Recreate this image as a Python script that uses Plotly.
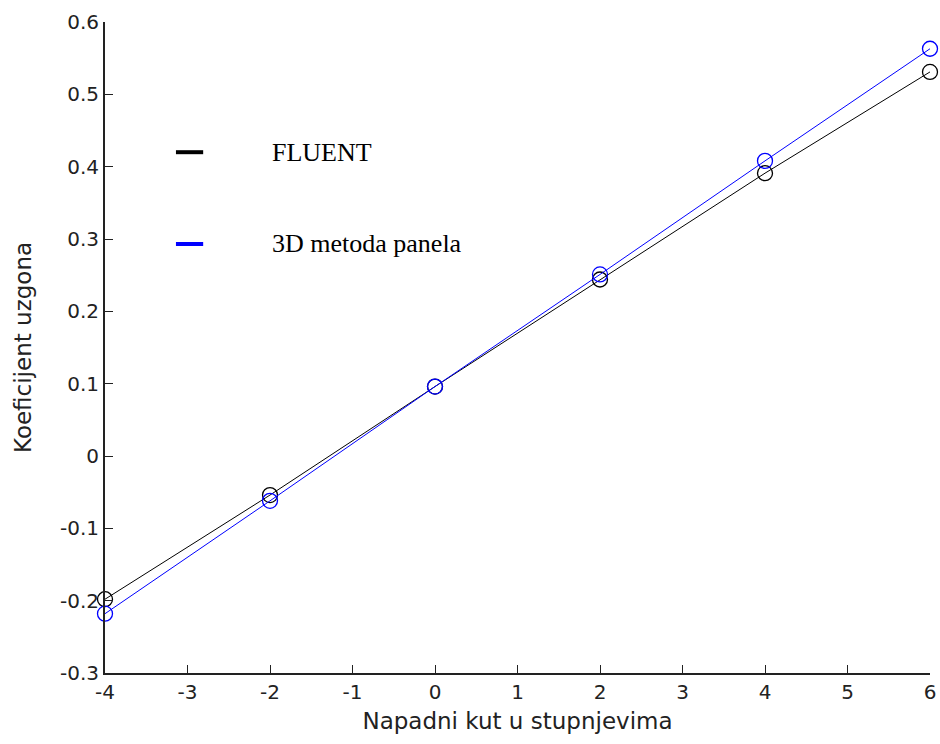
import plotly.graph_objects as go

angles = [-4, -2, 0, 2, 4, 6]
fluent = [-0.198, -0.054, 0.096, 0.244, 0.391, 0.531]
panel = [-0.218, -0.062, 0.096, 0.251, 0.408, 0.563]
series_names = ["FLUENT", "3D metoda panela"]
series_colors = ["black", "blue"]
x_ticks = [-4, -3, -2, -1, 0, 1, 2, 3, 4, 5, 6]
y_ticks = [-0.3, -0.2, -0.1, 0, 0.1, 0.2, 0.3, 0.4, 0.5, 0.6]

fig = go.Figure()
for name, ys, col in zip(series_names, [fluent, panel], series_colors):
    fig.add_trace(go.Scatter(
        x=angles, y=ys, mode="lines+markers", name=name,
        line=dict(color=col, width=1),
        marker=dict(symbol="circle-open", size=15, color=col, line=dict(width=1.3, color=col)),
        showlegend=False, cliponaxis=False,
    ))

# manual legend (as in original)
legend_y = [0.800, 0.659]
for name, col, ly in zip(series_names, series_colors, legend_y):
    fig.add_shape(type="line", xref="paper", yref="paper",
                  x0=0.086, x1=0.119, y0=ly, y1=ly,
                  line=dict(color=col, width=4))
    fig.add_annotation(xref="paper", yref="paper", x=0.2, y=ly, text=name,
                       showarrow=False, xanchor="left", yanchor="middle",
                       font=dict(family="Liberation Serif, Times New Roman, serif", size=26, color="black"))

tick_font = dict(family="DejaVu Sans, sans-serif", size=20, color="#222")
title_font = dict(family="DejaVu Sans, sans-serif", size=23, color="#222")
fig.update_layout(
    width=940, height=744,
    margin=dict(l=105, r=10, t=22, b=71),
    paper_bgcolor="white", plot_bgcolor="white",
    hovermode=False,
    xaxis=dict(range=[-4, 6], tickvals=x_ticks, ticktext=[f"{v:g}" for v in x_ticks],
               ticks="inside", ticklen=8, automargin=False,
               tickcolor="#222", showline=True, linecolor="#222", linewidth=2,
               showgrid=False, zeroline=False, tickfont=tick_font,
               title=dict(text="Napadni kut u stupnjevima", font=title_font, standoff=10)),
    yaxis=dict(range=[-0.3, 0.6], tickvals=y_ticks, ticktext=[f"{v:g}" for v in y_ticks],
               ticks="inside", ticklen=8, tickcolor="#222", automargin=False,
               showline=True, linecolor="#222", linewidth=2,
               showgrid=False, zeroline=False, tickfont=tick_font,
               title=dict(text="Koeficijent uzgona", font=title_font, standoff=22)),
)

fig.write_html("out.html",
               config={"displayModeBar": False},
               post_script="document.body.style.margin='0';document.body.style.overflow='hidden';")
